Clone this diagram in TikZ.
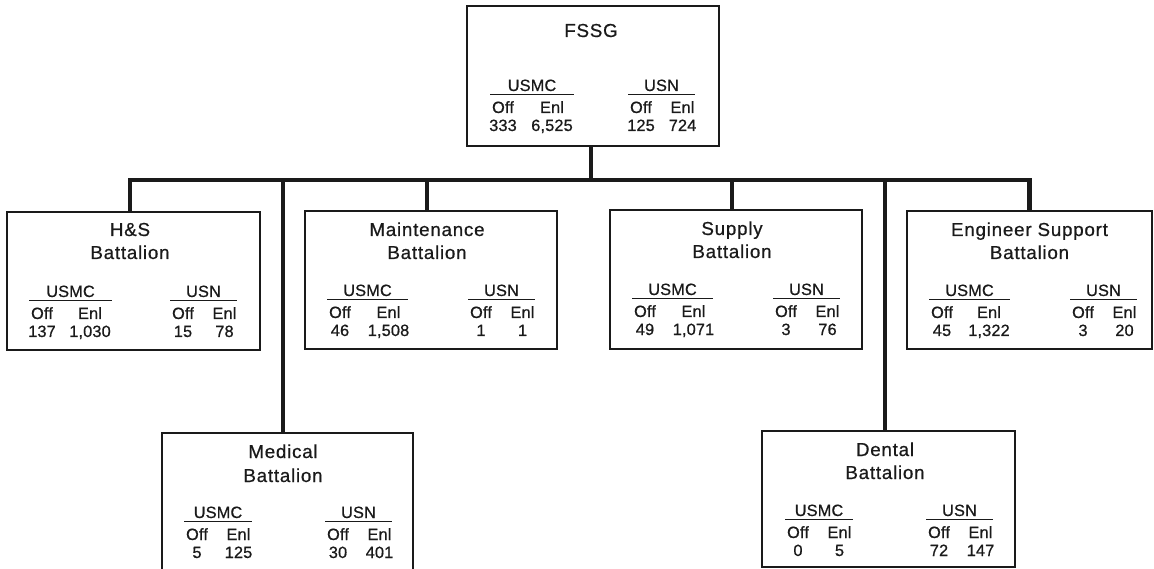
\documentclass[tikz,border=0pt]{standalone}
\usepackage{fontspec}
\setmainfont{Liberation Sans}
\newfontfamily\ttlfont[LetterSpace=4.0,FakeBold=0.6]{Liberation Sans}
\newfontfamily\tblfont[LetterSpace=1.0,FakeBold=0.7]{Liberation Sans}
\usetikzlibrary{calc}
\definecolor{ink}{HTML}{1A1A1A}
\tikzset{
  box/.style={draw=ink, line width=2.6pt, anchor=north west, inner sep=0pt, outer sep=0pt},
  conn/.style={draw=ink, line width=4.5pt, line join=miter},
  ttl/.style={anchor=base, inner sep=0pt, text=ink, font=\ttlfont\fontsize{18.8}{22}\selectfont},
  tbl/.style={anchor=base, inner sep=0pt, text=ink, font=\tblfont\fontsize{16.3}{18}\selectfont},
  rulel/.style={draw=ink, line width=1.4pt},
}
% #1 box name, #2 x offset, #3 rule width, #4 header, #5 off number, #6 enl number, #7 enl column centre
\newcommand\grp[7]{%
  \node[tbl] (#1#4h) at ($(#1.north west)+(#2+#3/2,85)$) {#4};
  \draw[rulel] ($(#1.north west)+(#2,88.5)$) -- ++(#3,0);
  \node[tbl] (#1#4o) at ($(#1.north west)+(#2+13,107)$) {Off};
  \node[tbl] (#1#4e) at ($(#1.north west)+(#2+#7,107)$) {Enl};
  \node[tbl] (#1#4on) at ($(#1.north west)+(#2+13,125)$) {#5};
  \node[tbl] (#1#4en) at ($(#1.north west)+(#2+#7,125)$) {#6};
}
\begin{document}
\begin{tikzpicture}[x=1pt,y=-1pt]
\useasboundingbox (0,0) rectangle (1154,569);
\clip (0,0) rectangle (1154,569);
\fill[white] (0,0) rectangle (1154,569);
% boxes
\node[box, minimum width=252pt, minimum height=140pt] (fssg) at (467,6) {};
\node[box, minimum width=253pt, minimum height=138pt] (hs) at (7,212) {};
\node[box, minimum width=252pt, minimum height=138pt] (mnt) at (305,211) {};
\node[box, minimum width=252pt, minimum height=139pt] (sup) at (610,210) {};
\node[box, minimum width=245pt, minimum height=138pt] (eng) at (907,211) {};
\node[box, minimum width=251pt, minimum height=150pt] (med) at (162,433) {};
\node[box, minimum width=253pt, minimum height=136pt] (den) at (762,431) {};
% connector points
\coordinate (fssgB) at ([xshift=-2pt]fssg.south);
\coordinate (bus) at (fssgB |- 0,180);
\coordinate (hsT) at ([xshift=-3.5pt]hs.north);
\coordinate (mntT) at ([xshift=-4pt]mnt.north);
\coordinate (supT) at ([xshift=-4pt]sup.north);
\coordinate (engT) at ([xshift=0pt]eng.north);
\coordinate (medT) at ([xshift=-4.5pt]med.north);
\coordinate (denT) at ([xshift=-3.5pt]den.north);
% connectors
\draw[conn] (fssgB) -- (bus);
\draw[conn] (hsT) |- (bus) -| (engT);
\draw[conn] (mntT) -- (mntT |- bus);
\draw[conn] (supT) -- (supT |- bus);
\draw[conn] (medT) -- (medT |- bus);
\draw[conn] (denT) -- (denT |- bus);
% titles
\node[ttl] (fssgTa) at ($(fssgB |- fssg.north)+(0,31)$) {FSSG};
\node[ttl] (hsTa) at ($(hsT)+(0,24)$) {H\&S};
\node[ttl] (hsTb) at ($(hsT)+(0,47)$) {Battalion};
\node[ttl] (mntTa) at ($(mntT)+(0,25)$) {Maintenance};
\node[ttl] (mntTb) at ($(mntT)+(0,48)$) {Battalion};
\node[ttl] (supTa) at ($(supT)+(0,25)$) {Supply};
\node[ttl] (supTb) at ($(supT)+(0,48)$) {Battalion};
\node[ttl] (engTa) at ($(engT)+(0,25)$) {Engineer Support};
\node[ttl] (engTb) at ($(engT)+(0,48)$) {Battalion};
\node[ttl] (medTa) at ($(medT)+(0,25)$) {Medical};
\node[ttl] (medTb) at ($(medT)+(0,49)$) {Battalion};
\node[ttl] (denTa) at ($(denT)+(0,25)$) {Dental};
\node[ttl] (denTb) at ($(denT)+(0,48)$) {Battalion};
% tables
\grp{fssg}{23}{84}{USMC}{333}{6,525}{62}
\grp{fssg}{161}{67}{USN}{125}{724}{54.5}
\grp{hs}{22}{83}{USMC}{137}{1,030}{61}
\grp{hs}{163}{67}{USN}{15}{78}{54.5}
\grp{mnt}{22}{81}{USMC}{46}{1,508}{61.5}
\grp{mnt}{163}{67}{USN}{1}{1}{54.5}
\grp{sup}{22}{81}{USMC}{49}{1,071}{61.5}
\grp{sup}{163}{67}{USN}{3}{76}{54.5}
\grp{eng}{22}{81}{USMC}{45}{1,322}{60}
\grp{eng}{163}{67}{USN}{3}{20}{54.5}
\grp{med}{22}{68}{USMC}{5}{125}{54.5}
\grp{med}{163}{67}{USN}{30}{401}{54.5}
\grp{den}{23}{68}{USMC}{0}{5}{54.5}
\grp{den}{164}{67}{USN}{72}{147}{54.5}
\end{tikzpicture}
\end{document}
